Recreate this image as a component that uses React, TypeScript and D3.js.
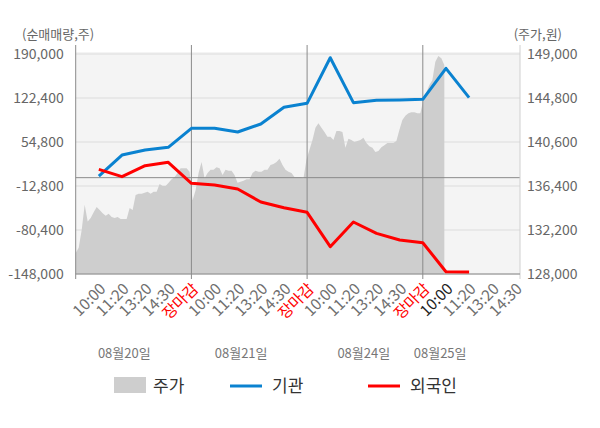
import { scaleLinear, area as d3area, line as d3line } from "d3";

const WIDTH = 600;
const HEIGHT = 428;
const PLOT = { left: 75.7, right: 520, top: 54, bottom: 274, bgTop: 52, lineTop: 45 };

const FONT = "'Noto Sans CJK KR', 'Noto Sans', sans-serif";

const dayLabels = ["08월20일", "08월21일", "08월24일", "08월25일"];
const dayLabelAt = [1.1, 6.15, 11.45, 14.75];
const dayBreaks = [4, 9, 14];

const timeLabels = [
  "10:00", "11:20", "13:20", "14:30", "장마감",
  "10:00", "11:20", "13:20", "14:30", "장마감",
  "10:00", "11:20", "13:20", "14:30", "장마감",
  "10:00", "11:20", "13:20", "14:30",
];

const leftTicks = [190000, 122400, 54800, -12800, -80400, -148000];
const rightTicks = [149000, 144800, 140600, 136400, 132200, 128000];

const institution = [
  2500, 34800, 42500, 46650, 75850, 75850, 70200, 82450, 108100, 114250,
  184300, 115200, 118900, 119300, 120400, 168000, 122900,
];
const foreign = [
  12850, 1500, 18400, 23600, -8650, -11300, -17400, -37400, -46100, -53200,
  -106000, -68100, -85500, -95800, -99900, -144500, -145000,
];

const prices = [
  130000, 130500, 132200, 134600, 133000, 133350, 133900, 134400, 134100, 133800,
  133550, 133750, 133450, 133350, 133450, 133250, 133250, 133250, 134300, 134100,
  135550, 135650, 135650, 135750, 135850, 135650, 135850, 135850, 136600, 136400,
  136400, 136700, 137050, 137250, 137650, 138100, 138100, 138100, 137750, 135050,
  136000, 137650, 138700, 137150, 137650, 137950, 137950, 138200, 138100, 137450,
  137950, 137850, 137850, 137450, 136700, 136800, 136900, 137050, 137050, 137650,
  137850, 137750, 137750, 137950, 137950, 138400, 138500, 138700, 139000, 138400,
  137950, 137750, 137650, 137250, 137250, 137250, 137150, 138900, 139850, 140800,
  141950, 142400, 141950, 141550, 141100, 141100, 140800, 141650, 141650, 141550,
  140050, 140900, 140800, 140600, 140700, 140800, 141000, 140500, 140200, 140050,
  139650, 139750, 140100, 140300, 140500, 140500, 140500, 140700, 141750, 142700,
  143100, 143350, 143450, 143450, 143350, 143350, 144600, 145350, 146050, 146500,
  148250, 148800, 148600, 147950,
];

const fmt = (v: number) => v.toLocaleString("en-US");

export default function App() {
  const x = scaleLinear().domain([-1, 18.2]).range([PLOT.left, PLOT.right]);
  const yL = scaleLinear().domain([-148000, 190000]).range([PLOT.bottom, PLOT.top]);
  const yR = scaleLinear().domain([128000, 149000]).range([PLOT.bottom, PLOT.top]);
  const xp = scaleLinear().domain([0, prices.length - 1]).range([x(-1), x(14.93)]);

  const priceArea = d3area<number>()
    .x((_, i) => xp(i))
    .y0(PLOT.bottom)
    .y1((d) => yR(d))(prices) ?? "";

  const flowLine = d3line<number>()
    .x((_, i) => x(i))
    .y((d) => yL(d));

  return (
    <svg
      width={WIDTH}
      height={HEIGHT}
      style={{ position: "absolute", left: 0, top: 0, fontFamily: FONT }}
    >
      <rect x={0} y={0} width={WIDTH} height={HEIGHT} fill="#fff" />
      <rect
        x={PLOT.left}
        y={PLOT.bgTop}
        width={PLOT.right - PLOT.left}
        height={PLOT.bottom - PLOT.bgTop}
        fill="#f4f4f4"
      />

      {leftTicks.map((t) => (
        <line key={t} x1={PLOT.left} x2={PLOT.right} y1={yL(t)} y2={yL(t)} stroke="#dcdcdc" strokeWidth={1} />
      ))}

      <path d={priceArea} fill="#cecece" />

      <line x1={PLOT.left} x2={PLOT.right} y1={yL(0)} y2={yL(0)} stroke="#8a8a8a" strokeWidth={1} />

      {dayBreaks.map((b) => (
        <line key={b} x1={x(b)} x2={x(b)} y1={PLOT.lineTop} y2={PLOT.bottom} stroke="#8a8a8a" strokeWidth={1} />
      ))}
      {[-1, ...dayBreaks].map((b) => (
        <line key={`t${b}`} x1={x(b)} x2={x(b)} y1={PLOT.bottom} y2={PLOT.bottom + 5} stroke="#8a8a8a" strokeWidth={1} />
      ))}

      <line x1={PLOT.left} x2={PLOT.left} y1={PLOT.lineTop} y2={PLOT.bottom} stroke="#8a8a8a" strokeWidth={1} />
      <line x1={PLOT.right} x2={PLOT.right} y1={PLOT.lineTop} y2={PLOT.bottom + 5} stroke="#d0d0d0" strokeWidth={1} />
      <line x1={PLOT.left} x2={PLOT.right} y1={PLOT.bottom} y2={PLOT.bottom} stroke="#8a8a8a" strokeWidth={1} />

      <path d={flowLine(institution) ?? ""} fill="none" stroke="#0a82d0" strokeWidth={3} strokeLinejoin="round" />
      <path d={flowLine(foreign) ?? ""} fill="none" stroke="#ff0000" strokeWidth={3} strokeLinejoin="round" />

      {leftTicks.map((t) => (
        <text key={t} x={PLOT.left - 12} y={yL(t)} dy="0.35em" textAnchor="end" fontSize={14} fill="#666">
          {fmt(t)}
        </text>
      ))}
      {rightTicks.map((t) => (
        <text key={t} x={PLOT.right + 7} y={yR(t)} dy="0.35em" textAnchor="start" fontSize={14} fill="#666">
          {fmt(t)}
        </text>
      ))}

      <text x={22} y={34} dy="0.35em" fontSize={13} fill="#666">(순매매량,주)</text>
      <text x={562} y={34} dy="0.35em" textAnchor="end" fontSize={13} fill="#666">(주가,원)</text>

      {timeLabels.map((lab, i) => (
        <text
          key={i}
          transform={`translate(${x(i) + 4},${PLOT.bottom + 12}) rotate(-45)`}
          textAnchor="end"
          dy="0.35em"
          fontSize={15.5}
          fill={lab === "장마감" ? "#ff0000" : i === 15 ? "#222" : "#6e6e6e"}
        >
          {lab}
        </text>
      ))}

      {dayLabels.map((d, i) => (
        <text key={d} x={x(dayLabelAt[i])} y={353} dy="0.35em" textAnchor="middle" fontSize={13} fill="#777">
          {d}
        </text>
      ))}

      <g fontSize={17} fill="#333">
        <rect x={114} y={377} width={32} height={16} fill="#cecece" />
        <text x={153} y={386} dy="0.35em">주가</text>
        <line x1={230} x2={262} y1={386} y2={386} stroke="#0a82d0" strokeWidth={3} />
        <text x={272} y={386} dy="0.35em">기관</text>
        <line x1={368} x2={400} y1={386} y2={386} stroke="#ff0000" strokeWidth={3} />
        <text x={410} y={386} dy="0.35em">외국인</text>
      </g>
    </svg>
  );
}
